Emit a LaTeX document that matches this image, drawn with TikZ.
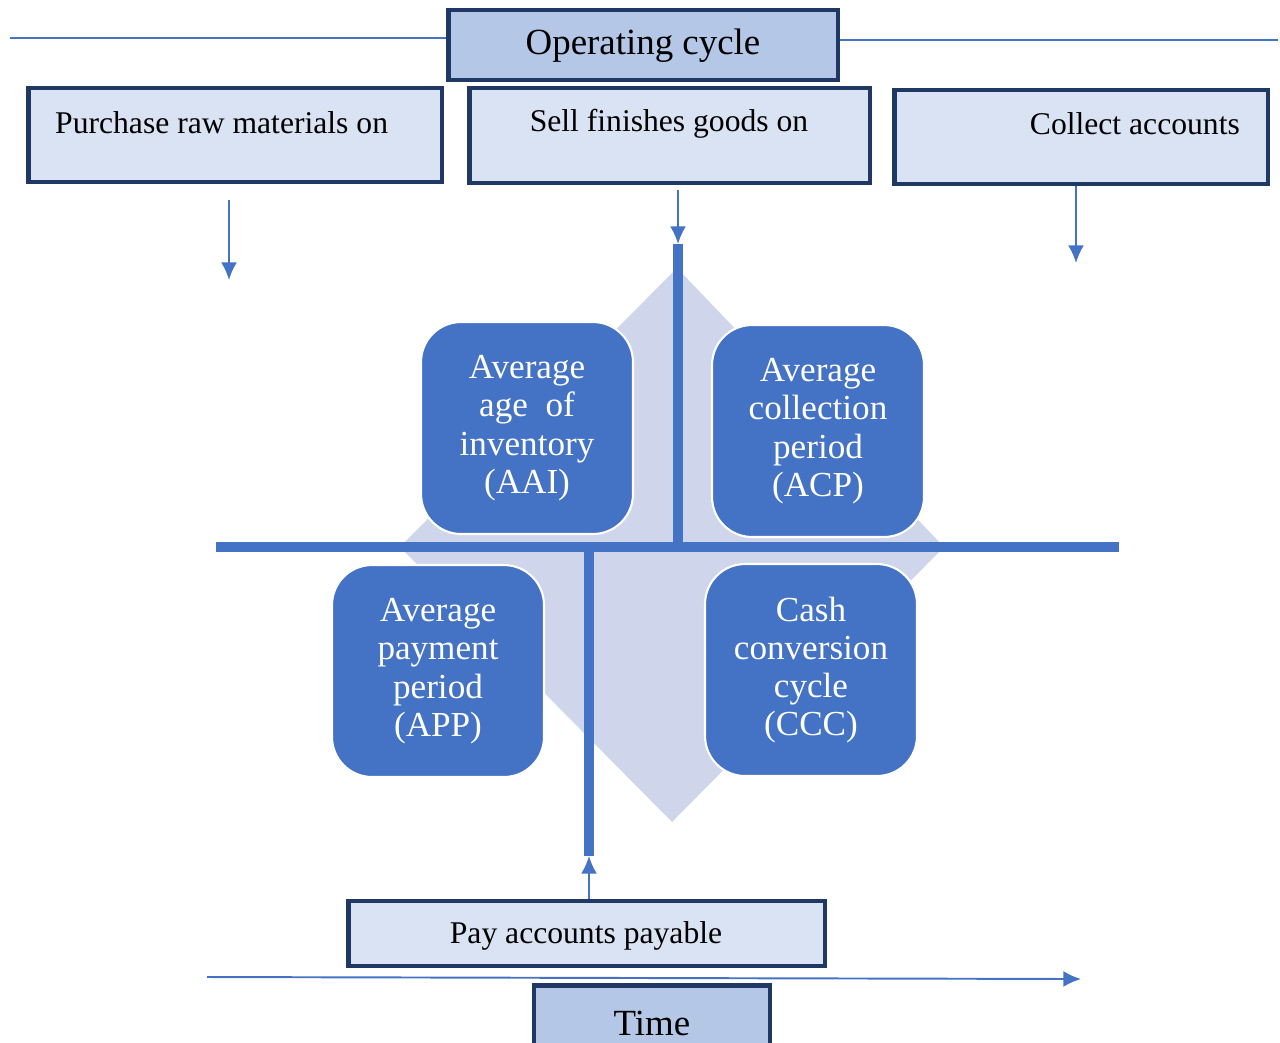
\documentclass[tikz,border=0pt]{standalone}
\usepackage{fontspec}
\setmainfont{Liberation Serif}
\usetikzlibrary{arrows.meta}

\definecolor{cycblue}{HTML}{4472C4}
\definecolor{navy}{HTML}{203864}
\definecolor{headfill}{HTML}{B4C7E7}
\definecolor{boxfill}{HTML}{DAE3F3}
\definecolor{diamfill}{HTML}{CFD5EA}

\begin{document}
\begin{tikzpicture}[x=0.02cm,y=-0.02cm,>={Latex[length=10pt,width=9pt]},
	headbox/.style={draw=navy,line width=2.8pt,fill=headfill,inner sep=0pt,font=\fontsize{21}{24}\selectfont},
	stepbox/.style={draw=navy,line width=2.8pt,fill=boxfill,inner sep=0pt,font=\fontsize{18}{20}\selectfont},
	period/.style={draw=white,line width=1.2pt,fill=cycblue,rounded corners=0.8cm,minimum width=4.24cm,minimum height=4.24cm,
		text=white,align=center,font=\fontsize{20}{21.8}\selectfont},
	bar/.style={cycblue,line width=5.7pt},
	flow/.style={cycblue,line width=1.1pt,->}]
	\useasboundingbox (0,0) rectangle (1280,1042);
	\clip (0,0) rectangle (1280,1042);

	% title and time line
	\node[headbox,minimum width=7.8cm,minimum height=1.4cm] (op) at (643,45) {};
	\node[font=\fontsize{21}{24}\selectfont] (optxt) at (643,46) {Operating cycle};
	\coordinate (opL) at (10,38);
	\coordinate (opR) at (1278,40);
	\draw[cycblue,line width=1pt] (opL) -- (op.west |- opL);
	\draw[cycblue,line width=1pt] (op.east |- opR) -- (opR);

	% the three steps on top
	\node[stepbox,minimum width=8.28cm,minimum height=1.88cm] (buy) at (235,135) {};
	\node[stepbox,minimum width=8.02cm,minimum height=1.9cm] (sell) at (669.5,135.5) {};
	\node[stepbox,minimum width=7.48cm,minimum height=1.88cm] (coll) at (1081,137) {};
	\node[anchor=west,font=\fontsize{18}{20}\selectfont] (buytxt) at (49,123) {Purchase raw materials on};
	\node[font=\fontsize{18}{20}\selectfont] (selltxt) at (669,124) {Sell finishes goods on};
	\node[anchor=east,font=\fontsize{18}{20}\selectfont] (colltxt) at (1246,124) {Collect accounts};

	% diamond and cross
	\fill[diamfill] (677,268) -- (944,547) -- (672,822) -- (400,547) -- cycle;
	\coordinate (hL) at (216,547);
	\coordinate (hR) at (1119,547);
	\coordinate (vT) at (678,244);
	\coordinate (vB) at (589,856);
	\draw[bar] (hL) -- (hR);
	\draw[bar] (vT) -- (vT |- hL);
	\draw[bar] (vB |- hL) -- (vB);

	\node[period] (aai) at (527,428) {Average\\age\ \ of\\inventory\\(AAI)};
	\node[period] (acp) at (818,431) {Average\\collection\\period\\(ACP)};
	\node[period] (app) at (438,671) {Average\\payment\\period\\(APP)};
	\node[period] (ccc) at (811,670) {Cash\\conversion\\cycle\\(CCC)};

	% arrows from the steps
	\coordinate (a1) at (229,200);
	\coordinate (a1e) at (229,280);
	\coordinate (a2) at (678,190);
	\coordinate (a3e) at (1076,263);
	\draw[flow] (a1) -- (a1e);
	\draw[flow] (a2) -- (vT);
	\draw[flow] (coll.south -| a3e) -- (a3e);

	% pay and time
	\node[stepbox,minimum width=9.54cm,minimum height=1.3cm] (pay) at (586.5,933.5) {};
	\node[font=\fontsize{18}{20}\selectfont] (paytxt) at (586,936) {Pay accounts payable};
	\draw[flow] (pay.north -| vB) -- (vB);
	\coordinate (tL) at (207,977);
	\coordinate (tR) at (1081,979);
	\draw[flow] (tL) -- (tR);
	\node[headbox,minimum width=4.72cm,minimum height=1.5cm] (time) at (652,1023) {};
	\node[font=\fontsize{21}{24}\selectfont] (timetxt) at (652,1023) {Time};
\end{tikzpicture}
\end{document}
